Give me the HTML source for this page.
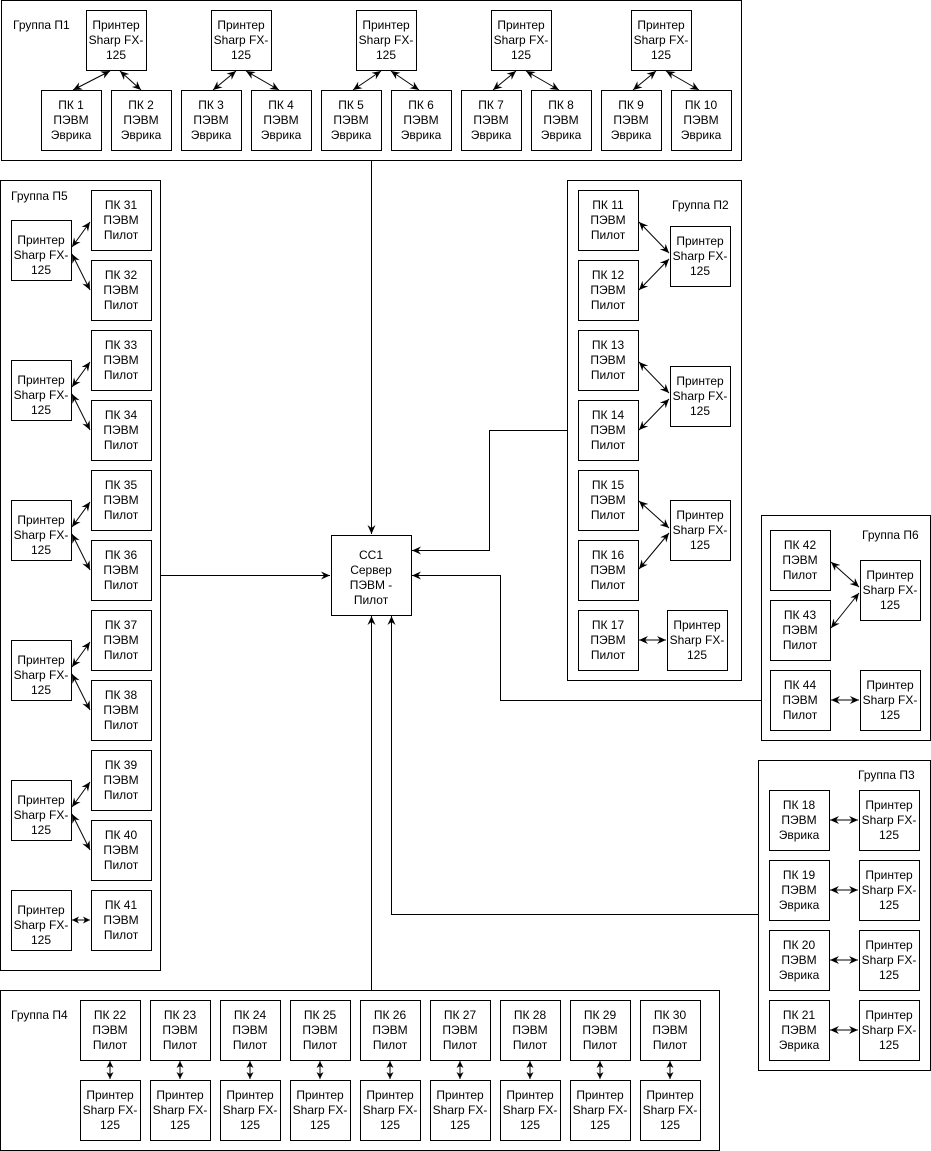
<!DOCTYPE html>
<html><head><meta charset="utf-8"><style>
html,body{margin:0;padding:0;background:#fff}
svg{display:block}
text{font-family:"Liberation Sans",Arial,sans-serif;font-size:12px;fill:#000}
</style></head><body>
<svg width="931" height="1151" viewBox="0 0 931 1151" xmlns="http://www.w3.org/2000/svg">
<defs>
<marker id="a" markerWidth="10" markerHeight="8" refX="9" refY="4" orient="auto-start-reverse" markerUnits="userSpaceOnUse"><path d="M0,0 L9,4 L0,8 L3,4 Z" fill="#000"/></marker>
<marker id="s" markerWidth="8" markerHeight="8" refX="7" refY="4" orient="auto-start-reverse" markerUnits="userSpaceOnUse"><path d="M0,0.5 L7,4 L0,7.5 L2,4 Z" fill="#000"/></marker>
</defs>
<g fill="none" stroke="#000" stroke-width="1">
<rect x="1.5" y="0.5" width="740" height="160"/>
<rect x="0.5" y="180.5" width="160" height="790"/>
<rect x="567.5" y="180.5" width="174" height="500"/>
<rect x="761.5" y="515.5" width="169" height="225"/>
<rect x="758.5" y="760.5" width="172" height="310"/>
<rect x="0.5" y="990.5" width="719" height="160"/>
<rect x="331.5" y="535.5" width="80" height="80"/>
</g>
<g fill="#fff" stroke="#000">
<rect x="86.5" y="10.5" width="60" height="60"/><rect x="211.5" y="10.5" width="60" height="60"/><rect x="356.5" y="10.5" width="60" height="60"/><rect x="491.5" y="10.5" width="60" height="60"/><rect x="631.5" y="10.5" width="60" height="60"/>
<rect x="41.5" y="90.5" width="60" height="60"/><rect x="111.5" y="90.5" width="60" height="60"/><rect x="181.5" y="90.5" width="60" height="60"/><rect x="251.5" y="90.5" width="60" height="60"/><rect x="321.5" y="90.5" width="60" height="60"/><rect x="391.5" y="90.5" width="60" height="60"/><rect x="461.5" y="90.5" width="60" height="60"/><rect x="531.5" y="90.5" width="60" height="60"/><rect x="601.5" y="90.5" width="60" height="60"/><rect x="671.5" y="90.5" width="60" height="60"/>
<rect x="11.5" y="220.5" width="60" height="60"/><rect x="91.5" y="190.5" width="60" height="60"/><rect x="91.5" y="260.5" width="60" height="60"/>
<rect x="11.5" y="360.5" width="60" height="60"/><rect x="91.5" y="330.5" width="60" height="60"/><rect x="91.5" y="400.5" width="60" height="60"/>
<rect x="11.5" y="500.5" width="60" height="60"/><rect x="91.5" y="470.5" width="60" height="60"/><rect x="91.5" y="540.5" width="60" height="60"/>
<rect x="11.5" y="640.5" width="60" height="60"/><rect x="91.5" y="610.5" width="60" height="60"/><rect x="91.5" y="680.5" width="60" height="60"/>
<rect x="11.5" y="780.5" width="60" height="60"/><rect x="91.5" y="750.5" width="60" height="60"/><rect x="91.5" y="820.5" width="60" height="60"/>
<rect x="11.5" y="890.5" width="60" height="60"/><rect x="91.5" y="890.5" width="60" height="60"/>
<rect x="578.5" y="190.5" width="60" height="60"/><rect x="578.5" y="260.5" width="60" height="60"/><rect x="670.5" y="226.5" width="60" height="60"/>
<rect x="578.5" y="330.5" width="60" height="60"/><rect x="578.5" y="400.5" width="60" height="60"/><rect x="670.5" y="366.5" width="60" height="60"/>
<rect x="578.5" y="470.5" width="60" height="60"/><rect x="578.5" y="540.5" width="60" height="60"/><rect x="670.5" y="500.5" width="60" height="60"/>
<rect x="578.5" y="610.5" width="60" height="60"/><rect x="667.5" y="610.5" width="60" height="60"/>
<rect x="770.5" y="530.5" width="60" height="60"/><rect x="770.5" y="600.5" width="60" height="60"/><rect x="860.5" y="560.5" width="60" height="60"/>
<rect x="770.5" y="670.5" width="60" height="60"/><rect x="860.5" y="670.5" width="60" height="60"/>
<rect x="769.5" y="790.5" width="60" height="60"/><rect x="859.5" y="790.5" width="60" height="60"/>
<rect x="769.5" y="860.5" width="60" height="60"/><rect x="859.5" y="860.5" width="60" height="60"/>
<rect x="769.5" y="930.5" width="60" height="60"/><rect x="859.5" y="930.5" width="60" height="60"/>
<rect x="769.5" y="1000.5" width="60" height="60"/><rect x="859.5" y="1000.5" width="60" height="60"/>
<rect x="80.5" y="1000.5" width="60" height="60"/><rect x="150.5" y="1000.5" width="60" height="60"/><rect x="220.5" y="1000.5" width="60" height="60"/><rect x="290.5" y="1000.5" width="60" height="60"/><rect x="360.5" y="1000.5" width="60" height="60"/><rect x="430.5" y="1000.5" width="60" height="60"/><rect x="500.5" y="1000.5" width="60" height="60"/><rect x="570.5" y="1000.5" width="60" height="60"/><rect x="640.5" y="1000.5" width="60" height="60"/>
<rect x="80.5" y="1080.5" width="60" height="60"/><rect x="150.5" y="1080.5" width="60" height="60"/><rect x="220.5" y="1080.5" width="60" height="60"/><rect x="290.5" y="1080.5" width="60" height="60"/><rect x="360.5" y="1080.5" width="60" height="60"/><rect x="430.5" y="1080.5" width="60" height="60"/><rect x="500.5" y="1080.5" width="60" height="60"/><rect x="570.5" y="1080.5" width="60" height="60"/><rect x="640.5" y="1080.5" width="60" height="60"/>
</g>
<g stroke="#000" fill="none" marker-start="url(#a)" marker-end="url(#a)">
<line x1="110" y1="71" x2="73" y2="90"/><line x1="120" y1="71" x2="141" y2="90"/>
<line x1="236" y1="71" x2="213" y2="90"/><line x1="246" y1="71" x2="279" y2="90"/>
<line x1="381" y1="71" x2="353" y2="90"/><line x1="391" y1="71" x2="419" y2="90"/>
<line x1="516" y1="71" x2="493" y2="90"/><line x1="526" y1="71" x2="559" y2="90"/>
<line x1="656" y1="71" x2="633" y2="90"/><line x1="666" y1="71" x2="699" y2="90"/>
<line x1="72" y1="247" x2="90" y2="222"/><line x1="72" y1="254" x2="90" y2="290"/>
<line x1="72" y1="387" x2="90" y2="362"/><line x1="72" y1="394" x2="90" y2="430"/>
<line x1="72" y1="527" x2="90" y2="502"/><line x1="72" y1="534" x2="90" y2="570"/>
<line x1="72" y1="667" x2="90" y2="642"/><line x1="72" y1="674" x2="90" y2="710"/>
<line x1="72" y1="807" x2="90" y2="782"/><line x1="72" y1="814" x2="90" y2="850"/>
<line x1="639" y1="222" x2="669" y2="253"/><line x1="639" y1="290" x2="669" y2="259"/>
<line x1="639" y1="362" x2="669" y2="393"/><line x1="639" y1="430" x2="669" y2="399"/>
<line x1="639" y1="501" x2="669" y2="528"/><line x1="639" y1="569" x2="669" y2="533"/>
<line x1="639" y1="640" x2="666" y2="640"/>
<line x1="831" y1="562" x2="859" y2="587"/><line x1="831" y1="628" x2="859" y2="593"/>
<line x1="831" y1="700" x2="859" y2="700"/>
<line x1="830" y1="820" x2="858" y2="820"/><line x1="830" y1="890" x2="858" y2="890"/><line x1="830" y1="960" x2="858" y2="960"/><line x1="830" y1="1030" x2="858" y2="1030"/>
</g>
<g stroke="#000" fill="none" marker-start="url(#s)" marker-end="url(#s)">
<line x1="72" y1="920" x2="90" y2="920"/>
<line x1="110" y1="1061" x2="110" y2="1079"/><line x1="180" y1="1061" x2="180" y2="1079"/><line x1="250" y1="1061" x2="250" y2="1079"/><line x1="320" y1="1061" x2="320" y2="1079"/><line x1="390" y1="1061" x2="390" y2="1079"/><line x1="460" y1="1061" x2="460" y2="1079"/><line x1="530" y1="1061" x2="530" y2="1079"/><line x1="600" y1="1061" x2="600" y2="1079"/><line x1="670" y1="1061" x2="670" y2="1079"/>
</g>
<g stroke="#000" fill="none" marker-end="url(#a)">
<path d="M371.5,161 V534"/>
<path d="M161,575.5 H330"/>
<path d="M567,430.5 H489.5 V550.5 H412"/>
<path d="M761,700.5 H500.5 V575.5 H412"/>
<path d="M758,914.5 H391.5 V616"/>
<path d="M371.5,990 V616"/>
</g>
<text x="13" y="29">Группа П1</text>
<text x="11" y="200">Группа П5</text>
<text x="672" y="209">Группа П2</text>
<text x="862" y="539">Группа П6</text>
<text x="858" y="779">Группа П3</text>
<text x="11" y="1019">Группа П4</text>
<g text-anchor="middle">
<text x="371" y="559">CC1</text><text x="371" y="574">Сервер</text><text x="371" y="589">ПЭВМ -</text><text x="371" y="604">Пилот</text>
<text x="116" y="29">Принтер</text><text x="116" y="44">Sharp FX-</text><text x="116" y="59">125</text>
<text x="241" y="29">Принтер</text><text x="241" y="44">Sharp FX-</text><text x="241" y="59">125</text>
<text x="386" y="29">Принтер</text><text x="386" y="44">Sharp FX-</text><text x="386" y="59">125</text>
<text x="521" y="29">Принтер</text><text x="521" y="44">Sharp FX-</text><text x="521" y="59">125</text>
<text x="661" y="29">Принтер</text><text x="661" y="44">Sharp FX-</text><text x="661" y="59">125</text>
<text x="71" y="109">ПК 1</text><text x="71" y="124">ПЭВМ</text><text x="71" y="139">Эврика</text>
<text x="141" y="109">ПК 2</text><text x="141" y="124">ПЭВМ</text><text x="141" y="139">Эврика</text>
<text x="211" y="109">ПК 3</text><text x="211" y="124">ПЭВМ</text><text x="211" y="139">Эврика</text>
<text x="281" y="109">ПК 4</text><text x="281" y="124">ПЭВМ</text><text x="281" y="139">Эврика</text>
<text x="351" y="109">ПК 5</text><text x="351" y="124">ПЭВМ</text><text x="351" y="139">Эврика</text>
<text x="421" y="109">ПК 6</text><text x="421" y="124">ПЭВМ</text><text x="421" y="139">Эврика</text>
<text x="491" y="109">ПК 7</text><text x="491" y="124">ПЭВМ</text><text x="491" y="139">Эврика</text>
<text x="561" y="109">ПК 8</text><text x="561" y="124">ПЭВМ</text><text x="561" y="139">Эврика</text>
<text x="631" y="109">ПК 9</text><text x="631" y="124">ПЭВМ</text><text x="631" y="139">Эврика</text>
<text x="701" y="109">ПК 10</text><text x="701" y="124">ПЭВМ</text><text x="701" y="139">Эврика</text>
<text x="41" y="244">Принтер</text><text x="41" y="259">Sharp FX-</text><text x="41" y="274">125</text>
<text x="41" y="384">Принтер</text><text x="41" y="399">Sharp FX-</text><text x="41" y="414">125</text>
<text x="41" y="524">Принтер</text><text x="41" y="539">Sharp FX-</text><text x="41" y="554">125</text>
<text x="41" y="664">Принтер</text><text x="41" y="679">Sharp FX-</text><text x="41" y="694">125</text>
<text x="41" y="804">Принтер</text><text x="41" y="819">Sharp FX-</text><text x="41" y="834">125</text>
<text x="41" y="914">Принтер</text><text x="41" y="929">Sharp FX-</text><text x="41" y="944">125</text>
<text x="121" y="209">ПК 31</text><text x="121" y="224">ПЭВМ</text><text x="121" y="239">Пилот</text>
<text x="121" y="279">ПК 32</text><text x="121" y="294">ПЭВМ</text><text x="121" y="309">Пилот</text>
<text x="121" y="349">ПК 33</text><text x="121" y="364">ПЭВМ</text><text x="121" y="379">Пилот</text>
<text x="121" y="419">ПК 34</text><text x="121" y="434">ПЭВМ</text><text x="121" y="449">Пилот</text>
<text x="121" y="489">ПК 35</text><text x="121" y="504">ПЭВМ</text><text x="121" y="519">Пилот</text>
<text x="121" y="559">ПК 36</text><text x="121" y="574">ПЭВМ</text><text x="121" y="589">Пилот</text>
<text x="121" y="629">ПК 37</text><text x="121" y="644">ПЭВМ</text><text x="121" y="659">Пилот</text>
<text x="121" y="699">ПК 38</text><text x="121" y="714">ПЭВМ</text><text x="121" y="729">Пилот</text>
<text x="121" y="769">ПК 39</text><text x="121" y="784">ПЭВМ</text><text x="121" y="799">Пилот</text>
<text x="121" y="839">ПК 40</text><text x="121" y="854">ПЭВМ</text><text x="121" y="869">Пилот</text>
<text x="121" y="909">ПК 41</text><text x="121" y="924">ПЭВМ</text><text x="121" y="939">Пилот</text>
<text x="608" y="209">ПК 11</text><text x="608" y="224">ПЭВМ</text><text x="608" y="239">Пилот</text>
<text x="608" y="279">ПК 12</text><text x="608" y="294">ПЭВМ</text><text x="608" y="309">Пилот</text>
<text x="608" y="349">ПК 13</text><text x="608" y="364">ПЭВМ</text><text x="608" y="379">Пилот</text>
<text x="608" y="419">ПК 14</text><text x="608" y="434">ПЭВМ</text><text x="608" y="449">Пилот</text>
<text x="608" y="489">ПК 15</text><text x="608" y="504">ПЭВМ</text><text x="608" y="519">Пилот</text>
<text x="608" y="559">ПК 16</text><text x="608" y="574">ПЭВМ</text><text x="608" y="589">Пилот</text>
<text x="608" y="629">ПК 17</text><text x="608" y="644">ПЭВМ</text><text x="608" y="659">Пилот</text>
<text x="700" y="245">Принтер</text><text x="700" y="260">Sharp FX-</text><text x="700" y="275">125</text>
<text x="700" y="385">Принтер</text><text x="700" y="400">Sharp FX-</text><text x="700" y="415">125</text>
<text x="700" y="519">Принтер</text><text x="700" y="534">Sharp FX-</text><text x="700" y="549">125</text>
<text x="697" y="629">Принтер</text><text x="697" y="644">Sharp FX-</text><text x="697" y="659">125</text>
<text x="800" y="549">ПК 42</text><text x="800" y="564">ПЭВМ</text><text x="800" y="579">Пилот</text>
<text x="800" y="619">ПК 43</text><text x="800" y="634">ПЭВМ</text><text x="800" y="649">Пилот</text>
<text x="800" y="689">ПК 44</text><text x="800" y="704">ПЭВМ</text><text x="800" y="719">Пилот</text>
<text x="890" y="579">Принтер</text><text x="890" y="594">Sharp FX-</text><text x="890" y="609">125</text>
<text x="890" y="689">Принтер</text><text x="890" y="704">Sharp FX-</text><text x="890" y="719">125</text>
<text x="799" y="809">ПК 18</text><text x="799" y="824">ПЭВМ</text><text x="799" y="839">Эврика</text>
<text x="799" y="879">ПК 19</text><text x="799" y="894">ПЭВМ</text><text x="799" y="909">Эврика</text>
<text x="799" y="949">ПК 20</text><text x="799" y="964">ПЭВМ</text><text x="799" y="979">Эврика</text>
<text x="799" y="1019">ПК 21</text><text x="799" y="1034">ПЭВМ</text><text x="799" y="1049">Эврика</text>
<text x="889" y="809">Принтер</text><text x="889" y="824">Sharp FX-</text><text x="889" y="839">125</text>
<text x="889" y="879">Принтер</text><text x="889" y="894">Sharp FX-</text><text x="889" y="909">125</text>
<text x="889" y="949">Принтер</text><text x="889" y="964">Sharp FX-</text><text x="889" y="979">125</text>
<text x="889" y="1019">Принтер</text><text x="889" y="1034">Sharp FX-</text><text x="889" y="1049">125</text>
<text x="110" y="1019">ПК 22</text><text x="110" y="1034">ПЭВМ</text><text x="110" y="1049">Пилот</text>
<text x="180" y="1019">ПК 23</text><text x="180" y="1034">ПЭВМ</text><text x="180" y="1049">Пилот</text>
<text x="250" y="1019">ПК 24</text><text x="250" y="1034">ПЭВМ</text><text x="250" y="1049">Пилот</text>
<text x="320" y="1019">ПК 25</text><text x="320" y="1034">ПЭВМ</text><text x="320" y="1049">Пилот</text>
<text x="390" y="1019">ПК 26</text><text x="390" y="1034">ПЭВМ</text><text x="390" y="1049">Пилот</text>
<text x="460" y="1019">ПК 27</text><text x="460" y="1034">ПЭВМ</text><text x="460" y="1049">Пилот</text>
<text x="530" y="1019">ПК 28</text><text x="530" y="1034">ПЭВМ</text><text x="530" y="1049">Пилот</text>
<text x="600" y="1019">ПК 29</text><text x="600" y="1034">ПЭВМ</text><text x="600" y="1049">Пилот</text>
<text x="670" y="1019">ПК 30</text><text x="670" y="1034">ПЭВМ</text><text x="670" y="1049">Пилот</text>
<text x="110" y="1099">Принтер</text><text x="110" y="1114">Sharp FX-</text><text x="110" y="1129">125</text>
<text x="180" y="1099">Принтер</text><text x="180" y="1114">Sharp FX-</text><text x="180" y="1129">125</text>
<text x="250" y="1099">Принтер</text><text x="250" y="1114">Sharp FX-</text><text x="250" y="1129">125</text>
<text x="320" y="1099">Принтер</text><text x="320" y="1114">Sharp FX-</text><text x="320" y="1129">125</text>
<text x="390" y="1099">Принтер</text><text x="390" y="1114">Sharp FX-</text><text x="390" y="1129">125</text>
<text x="460" y="1099">Принтер</text><text x="460" y="1114">Sharp FX-</text><text x="460" y="1129">125</text>
<text x="530" y="1099">Принтер</text><text x="530" y="1114">Sharp FX-</text><text x="530" y="1129">125</text>
<text x="600" y="1099">Принтер</text><text x="600" y="1114">Sharp FX-</text><text x="600" y="1129">125</text>
<text x="670" y="1099">Принтер</text><text x="670" y="1114">Sharp FX-</text><text x="670" y="1129">125</text>
</g>
</svg>
</body></html>
